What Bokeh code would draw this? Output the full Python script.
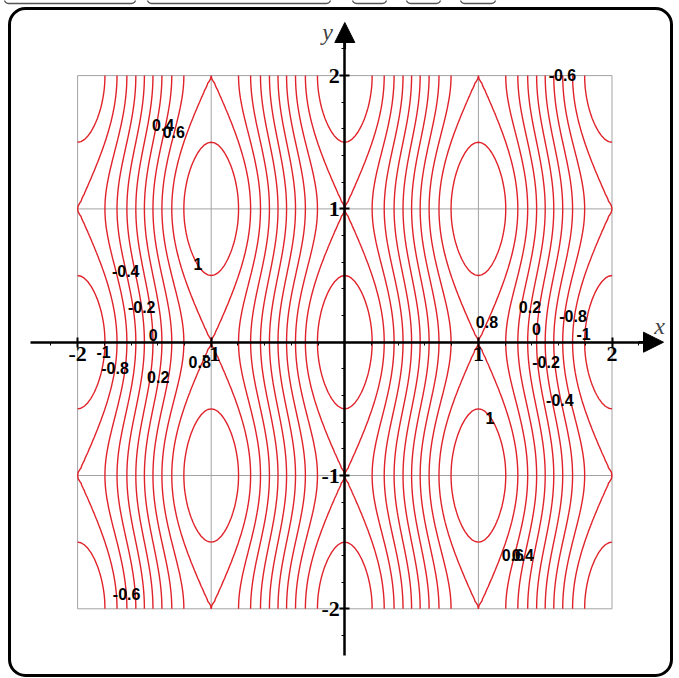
import numpy as np
from bokeh.plotting import figure
from bokeh.models import (ColumnDataSource, Range1d, LinearAxis, FixedTicker,
                          Arrow, NormalHead, BoxAnnotation, Label)
from bokeh.core.properties import value
from bokeh.embed import file_html
from bokeh.resources import INLINE

# Surface z = -cos(pi*x) - Y_WEIGHT*cos(pi*y) over the square [-2, 2] x [-2, 2]
Y_WEIGHT = 0.2
domain = [-2.0, 2.0]
levels = [-1.0, -0.8, -0.6, -0.4, -0.2, 0.0, 0.2, 0.4, 0.6, 0.8, 1.0]

grid_values = [-2, -1, 0, 1, 2]
tick_values = [-2, -1, 1, 2]
tick_labels = ["-2", "-1", "1", "2"]

# inline contour labels: level and where it is written
label_levels = [0.4, 0.6, -0.4, -0.2, 0.0, 1.0, -1.0, -0.8, 0.2, 0.8, -0.6,
                -0.6, 0.8, 0.2, 0.0, -0.8, -1.0, -0.2, -0.4, 1.0, 0.6, 0.4]
label_x = [-1.36, -1.28, -1.64, -1.52, -1.434, -1.10, -1.805, -1.72, -1.397, -1.086, -1.633,
           1.629, 1.064, 1.386, 1.434, 1.708, 1.787, 1.506, 1.61, 1.086, 1.258, 1.333]
label_y = [1.63, 1.575, 0.535, 0.263, 0.052, 0.585, -0.075, -0.19, -0.26, -0.15, -1.89,
           2.003, 0.15, 0.263, 0.098, 0.195, 0.06, -0.15, -0.435, -0.572, -1.598, -1.598]

# ---- page geometry (pixels) ----
W, H = 679, 678
X0_PX, UNIT_X = 344.3, 133.6     # pixel column of x = 0, pixels per unit
Y0_PX, UNIT_Y = 341.7, 133.3     # pixel row of y = 0, pixels per unit


def px_x(px):
    return (px - X0_PX) / UNIT_X


def px_y(py):
    return (Y0_PX - py) / UNIT_Y


p = figure(width=W, height=H,
           x_range=Range1d(px_x(0), px_x(W)), y_range=Range1d(px_y(H), px_y(0)),
           x_axis_type=None, y_axis_type=None,
           toolbar_location=None, output_backend="svg",
           min_border=0, outline_line_color=None,
           background_fill_color="white", border_fill_color="white")

# gray unit grid limited to the square
gs = ColumnDataSource(dict(
    x0=grid_values + [domain[0]] * len(grid_values),
    y0=[domain[0]] * len(grid_values) + grid_values,
    x1=grid_values + [domain[1]] * len(grid_values),
    y1=[domain[1]] * len(grid_values) + grid_values,
))
p.segment("x0", "y0", "x1", "y1", source=gs, line_color="#a3a3a3", line_width=1)

# contour lines
xs = np.linspace(domain[0], domain[1], 161)
ys = np.linspace(domain[0], domain[1], 161)
XX, YY = np.meshgrid(xs, ys)
ZZ = -np.cos(np.pi * XX) - Y_WEIGHT * np.cos(np.pi * YY)
p.contour(xs, ys, ZZ, levels, line_color="#e0232b", line_width=1.4)

# level labels
ls = ColumnDataSource(dict(x=label_x, y=label_y,
                           text=[f"{v:g}" for v in label_levels]))
p.text("x", "y", "text", source=ls, text_font=value("Liberation Sans"),
       text_font_style="bold", text_font_size="16px", text_color="black",
       text_align="center", text_baseline="middle")

# axes through the origin
minor = [round(v, 1) for v in np.arange(-2.2, 2.21, 0.2) if abs(round(v, 1) % 1) > 1e-9]


def style_axis(ax):
    ax.axis_line_color = "black"
    ax.axis_line_width = 2.5
    ax.major_tick_line_color = "black"
    ax.major_tick_line_width = 2
    ax.major_tick_in = 5
    ax.major_tick_out = 5
    ax.minor_tick_line_color = "black"
    ax.minor_tick_in = 0
    ax.minor_tick_out = 3
    ax.major_label_text_font = "Liberation Serif"
    ax.major_label_text_font_style = "bold"
    ax.major_label_text_font_size = "22px"
    ax.major_label_text_color = "black"
    ax.major_label_standoff = 0
    ax.major_label_overrides = {t: s for t, s in zip(tick_values, tick_labels)}


xaxis = LinearAxis(fixed_location=0, bounds=(px_x(30), 2.25),
                   ticker=FixedTicker(ticks=tick_values, minor_ticks=minor))
style_axis(xaxis)
p.add_layout(xaxis, "below")

yaxis = LinearAxis(fixed_location=0, bounds=(px_y(655), 2.25),
                   ticker=FixedTicker(ticks=tick_values, minor_ticks=minor))
style_axis(yaxis)
p.add_layout(yaxis, "left")

p.add_layout(Arrow(end=NormalHead(size=20, fill_color="black", line_color="black"),
                   x_start=2.2, y_start=0, x_end=px_x(663), y_end=0,
                   line_color="black", line_width=2.5))
p.add_layout(Arrow(end=NormalHead(size=20, fill_color="black", line_color="black"),
                   x_start=0, y_start=2.2, x_end=0, y_end=px_y(22),
                   line_color="black", line_width=2.5))

p.add_layout(Label(x=px_x(327), y=px_y(31), text="y", text_font="Liberation Serif",
                   text_font_style="italic", text_font_size="24px",
                   text_align="center", text_baseline="middle"))
p.add_layout(Label(x=px_x(659), y=px_y(325), text="x", text_font="Liberation Serif",
                   text_font_style="italic", text_font_size="24px",
                   text_align="center", text_baseline="middle"))

# rounded panel border
p.add_layout(BoxAnnotation(left=px_x(9), right=px_x(671), top=px_y(8), bottom=px_y(675),
                           fill_color=None, fill_alpha=0, line_color="black", line_alpha=1,
                           line_width=3, border_radius=16))

# toolbar buttons peeking in at the top edge
for l, r in [(4, 135), (147, 330), (352, 386), (406, 440), (460, 495)]:
    p.add_layout(BoxAnnotation(left=px_x(l), right=px_x(r), top=px_y(-12), bottom=px_y(3),
                               fill_color="white", fill_alpha=1, line_color="#555555",
                               line_alpha=1, line_width=1.5, border_radius=4))

open("out.html", "w").write(file_html(p, INLINE))
